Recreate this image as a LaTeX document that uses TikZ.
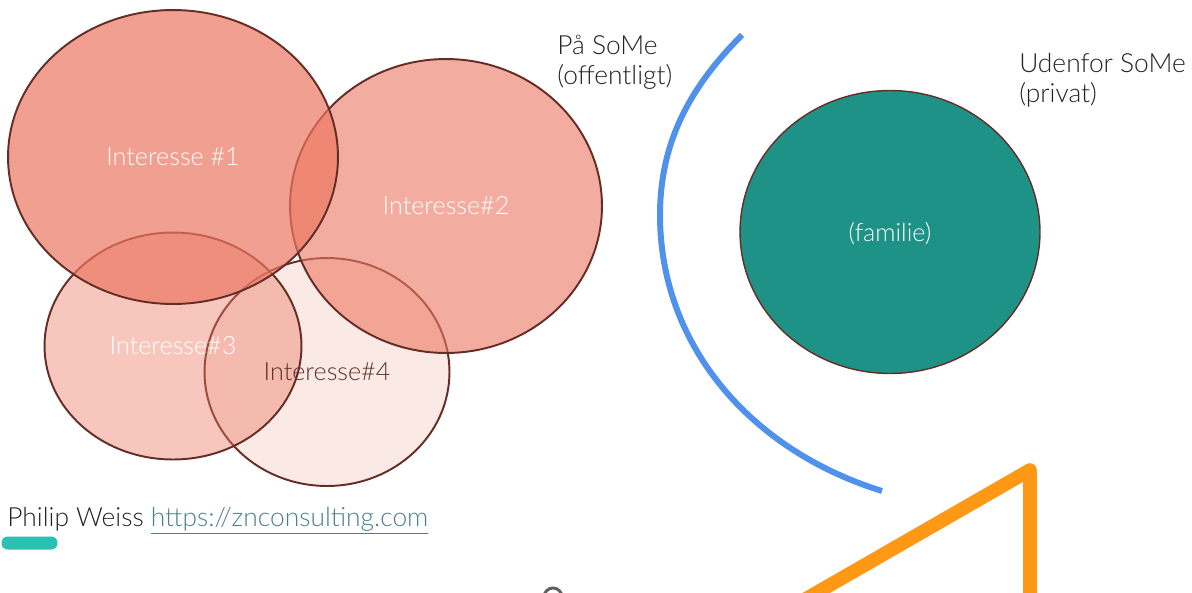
\documentclass[tikz,border=0pt]{standalone}
\usepackage{fontspec}
\setmainfont{Lato Light}
\usetikzlibrary{shapes.geometric}
\definecolor{salmon}{RGB}{236,119,97}
\definecolor{ringbrown}{RGB}{100,45,38}
\definecolor{familieteal}{RGB}{31,146,135}
\definecolor{arcblue}{RGB}{80,145,235}
\definecolor{signorange}{RGB}{255,152,20}
\definecolor{pillteal}{RGB}{43,192,176}
\definecolor{linkteal}{RGB}{74,128,142}
\definecolor{inkgray}{RGB}{34,34,34}
\definecolor{labelbrown}{RGB}{90,48,40}
\begin{document}
\begin{tikzpicture}[x=0.02cm,y=-0.02cm,
  interest/.style={ellipse, draw=ringbrown, line width=1.1pt, fill=salmon, inner sep=0pt},
  circlabel/.style={font=\fontsize{14.3}{16}\selectfont, text=white},
  sidelabel/.style={font=\fontsize{15}{17}\selectfont, text=inkgray, align=left, anchor=north west, inner sep=0pt}]
\useasboundingbox (0,0) rectangle (1192,592);
\fill[white] (0,0) rectangle (1192,592);

% overlapping interest circles, back to front
\node[interest, fill opacity=0.16, minimum width=4.9cm, minimum height=4.56cm] (i4) at (327,372) {};
\node[interest, fill opacity=0.41, minimum width=5.14cm, minimum height=4.54cm] (i3) at (173,346) {};
\node[interest, fill opacity=0.60, minimum width=6.24cm, minimum height=5.88cm] (i2) at (446,206) {};
\node[interest, fill opacity=0.70, minimum width=6.6cm, minimum height=5.88cm] (i1) at (173,157) {};

\node[circlabel] at (i1.center) {Interesse \#1};
\node[circlabel] at (i2.center) {Interesse\#2};
\node[circlabel] at (i3.center) {Interesse\#3};
\node[circlabel, text=labelbrown] at (i4.center) {Interesse\#4};

% private circle
\node[ellipse, draw=ringbrown, line width=0.8pt, fill=familieteal, inner sep=0pt,
      minimum width=6.0cm, minimum height=5.66cm] (fam) at (890,232) {};
\node[circlabel] at ([yshift=-0.04cm]fam.center) {(familie)};

% boundary arc between public and private
\coordinate (arcTop) at (742,35);
\coordinate (arcLeft) at (660,215);
\coordinate (arcEnd) at (882,491);
\draw[arcblue, line width=3.4pt]
  (arcTop) .. controls (692,85) and (660,140) .. (arcLeft)
           .. controls (660,345) and (750,450) .. (arcEnd);

% side labels
\node[sidelabel] (pub) at (557,35) {På SoMe\\(offentligt)};
\node[sidelabel] (priv) at (1019,53) {Udenfor SoMe\\(privat)};

% orange triangle and grey ring running off the bottom edge
\begin{scope}
\clip (0,0) rectangle (1192,592);
\coordinate (tl) at (717,650);
\coordinate (tapex) at (1030,470);
\coordinate (tr) at (1030,650);
\draw[signorange, line width=7.8pt, line join=round] (tl) -- (tapex) -- (tr);
\coordinate (ringstart) at (544,597);
\draw[black!62, line width=1.7pt] (ringstart) arc[start angle=180, end angle=0, radius=0.18cm];
\end{scope}

% credit line
\node[anchor=base west, inner sep=0pt, font=\fontsize{15}{17}\selectfont, text=inkgray] (credit) at (7,526)
  {Philip Weiss \textcolor{linkteal}{\underline{https://znconsulting.com}}};
\node[fill=pillteal, rounded corners=3.5pt, minimum width=1.12cm, minimum height=0.26cm, inner sep=0pt] (pill) at (29.5,543) {};
\end{tikzpicture}
\end{document}
